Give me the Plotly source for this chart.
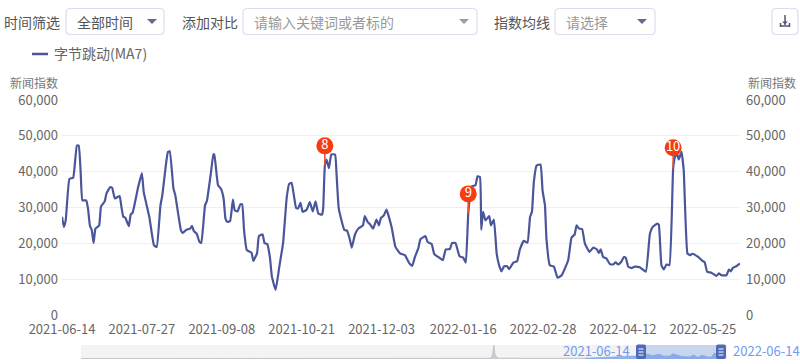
import pandas as pd
import plotly.graph_objects as go

# ---------- data ----------
start_date = "2021-06-14"
end_date = "2022-06-14"
day_offsets = [
 0,1,2,4,6,8,9,10,11,13,14,15,16,17,18,20,21,23,24,26,27,28.5,31,32,33,34,36,37,38,41,43,44,47,49.5,51,53,54,56,57,58,
 60,61,64,65,67,69,70,71,72.5,74,75,77,78,80,81.5,82,84,85.5,87,88,89,90.5,92,93,94.5,96,97,98,99.5,102,103,105,106,108,
 109,110.5,112,113,115,117,119,121,122.3,123.6,126,127,128.4,129.5,131.7,133.4,135,136.5,138,140,140.6,141.5,142.4,143.7,
 145,147,147.8,149,152,153.5,155,156,157.7,159.5,162,163,164.5,166,167.5,169.3,170.6,171.7,173.3,174.7,177.4,179.5,182,
 184.6,187,188.5,190,191.8,193,195.7,196.8,199,200.4,202.5,205,206.6,208.8,210,211.8,214,216,217.4,218.7,220.5,222.6,
 223.7,225,225.7,226.7,228,230,230.9,232.5,234,235.3,236.6,238,239.6,240.7,243,245,246.5,248.6,250.6,252,253,254,255.5,
 257.6,258.7,260,260.8,262.6,264.8,266.8,269,272.5,274.3,276,277,278.4,280,281.5,284,286,288,289,290,291.3,293,295,296.7,
 298,299.4,301,302.5,303.5,304.8,306.6,308.4,311,314.3,316.5,318,320.4,321.3,322.7,324,325.4,327,329,330,331.3,332,333.5,
 334.7,336.7,338,339.4,342.5,344.8,346,347.3,349.6,352.3,353.6,355,357.7,359,360,361.3,363,365,
]
news_index = [
 27400,24600,26400,38000,38300,47300,47300,40400,32000,32000,29700,25000,23700,20100,24100,25000,30300,31700,34000,35700,35500,32500,33200,30100,27400,27200,24800,28100,28500,35700,39600,34300,27400,19500,19000,30600,33400,42200,45500,45700,
 35300,33400,23700,22900,23800,24100,24900,23400,22700,20400,20100,30600,31800,39000,44800,44800,36200,35300,32500,26900,26000,26200,32200,29200,28900,30900,30900,23700,18100,17400,15100,17200,22000,22500,
 20100,19800,15800,10700,7000,13500,20000,32900,36600,36900,29900,29700,31300,28800,29400,31500,28900,31700,28300,28000,29700,41700,43400,41000,
 44800,44800,39400,29700,23700,23500,21000,18800,22400,24100,25000,27600,26000,25200,24100,26600,25000,27100,27800,29400,24600,19000,17200,
 16700,14400,13700,16200,18600,21200,22000,20400,19800,17000,16200,15300,18300,18400,20100,20100,16400,16000,14600,28300,35900,36200,
 38700,38500,23800,28800,26400,27600,25000,26600,17200,13900,12200,13600,13600,12800,14600,15000,18300,20700,20200,27400,28800,37100,41700,
 42000,34800,30600,21300,13900,13500,10400,11100,15300,21600,22500,25000,24100,24000,19900,17600,18800,18300,17300,18300,16200,15800,14200,14100,
 14700,14100,14800,16200,16000,13500,13100,13500,13300,12100,22700,24600,25500,25200,13900,12700,14100,13900,40800,44100,44800,43400,45500,
 40400,17200,16700,17100,16200,15100,14700,12100,11800,10900,11600,11100,11100,12700,12200,13200,13600,14400,
]
series_name = "字节跳动(MA7)"
y_ticks = [0, 10000, 20000, 30000, 40000, 50000, 60000]
x_tick_labels = ["2021-06-14","2021-07-27","2021-09-08","2021-10-21","2021-12-03",
                 "2022-01-16","2022-02-28","2022-04-12","2022-05-25"]
axis_title = "新闻指数"

pin_labels = ["8", "9", "10"]
pin_offsets = [141.5, 218.7, 329]
pin_from = [41700, 28300, 40800]
pin_to = [47200, 33800, 46700]

overview_gray_dates = ["2014-06-14","2015-06-01","2016-06-01","2017-06-01","2018-01-01","2018-09-01","2019-03-01",
                       "2019-07-28","2019-08-06","2019-08-12","2019-08-18","2019-09-01","2020-03-01","2020-10-01"]
overview_gray_values = [3,3,3,4,4,6,4,5,30,100,25,6,5,6]
overview_blue_dates = ["2020-10-01","2021-01-01","2021-04-01","2021-06-14","2021-07-10","2021-08-05","2021-09-05","2021-09-25",
                       "2021-10-25","2021-11-05","2021-12-10","2022-01-20","2022-02-10","2022-02-28","2022-03-20","2022-04-20",
                       "2022-05-01","2022-05-15","2022-06-14"]
overview_blue_values = [6,10,18,24,36,24,34,20,22,38,20,14,28,12,26,12,14,42,18]

# ---------- helpers for page furniture (pixel to paper) ----------
L, R, T, B = 62, 740, 100, 359
px = lambda v: (v - L) / (R - L)
py = lambda v: (B - v) / (B - T)

def rounded(x0, y0, x1, y1, r=4):
    X0, X1, Y0, Y1 = px(x0), px(x1), py(y0), py(y1)
    rx, ry = r / (R - L), r / (B - T)
    return (f"M {X0+rx} {Y0} L {X1-rx} {Y0} Q {X1} {Y0} {X1} {Y0-ry} L {X1} {Y1+ry} Q {X1} {Y1} {X1-rx} {Y1} "
            f"L {X0+rx} {Y1} Q {X0} {Y1} {X0} {Y1+ry} L {X0} {Y0-ry} Q {X0} {Y0} {X0+rx} {Y0} Z")

def poly(points):
    return "M " + " L ".join(f"{px(a)} {py(b)}" for a, b in points) + " Z"

shapes, annos = [], []
def box(x0, x1, y0=8.5, y1=34.5):
    shapes.append(dict(type="path", path=rounded(x0, y0, x1, y1), xref="paper", yref="paper",
                       line=dict(color="#dddcf0", width=1.2), fillcolor="white"))
def tri(cx, cy=21.5, w=5, h=5, color="#67678c"):
    shapes.append(dict(type="path", path=poly([(cx-w, cy-h/2), (cx+w, cy-h/2), (cx, cy+h/2)]),
                       xref="paper", yref="paper", line=dict(width=0), fillcolor=color))
def text(x, y, s, size=14, color="#555", anchor="left"):
    annos.append(dict(x=px(x), y=py(y), xref="paper", yref="paper", text=s, showarrow=False, xanchor=anchor,
                      yanchor="middle", xshift=0, font=dict(size=size, color=color), borderpad=0))
def seg(x0, y0, x1, y1, color, width=1.5):
    shapes.append(dict(type="line", x0=px(x0), x1=px(x1), y0=py(y0), y1=py(y1), xref="paper", yref="paper",
                       line=dict(color=color, width=width)))

box(66, 164); box(243, 477); box(555, 655); box(772, 798)
tri(152); tri(464, color="#9a9ab0"); tri(642)
text(3, 22, "时间筛选"); text(76, 22, "全部时间"); text(181, 22, "添加对比")
text(253, 22, "请输入关键词或者标的", color="#999"); text(493, 22, "指数均线"); text(565, 22, "请选择", color="#999")
seg(785, 15, 785, 25, "#55557a"); seg(780.5, 26, 789.5, 26, "#55557a", 1.5)
seg(780.5, 23, 780.5, 27, "#55557a"); seg(789.5, 23, 789.5, 27, "#55557a")
tri(785, 23, 3, 3, "#55557a")
seg(32, 54, 48, 54, "#4a5699", 2.5)
text(53, 53, series_name, color="#666")
text(9, 83, axis_title, size=12, color="#777"); text(747, 83, axis_title, size=12, color="#777")

# overview strip
shapes.append(dict(type="rect", x0=px(81), x1=px(727), y0=py(345), y1=py(359), xref="paper", yref="paper",
                   line=dict(width=0), fillcolor="#f3f3f3", layer="below"))
shapes.append(dict(type="rect", x0=px(641), x1=px(721), y0=py(345), y1=py(359), xref="paper", yref="paper",
                   line=dict(width=0), fillcolor="rgba(130,165,230,0.38)"))
for hx in (641, 721):
    shapes.append(dict(type="path", path=rounded(hx-5, 344.5, hx+5, 359, 2), xref="paper", yref="paper",
                       line=dict(width=0), fillcolor="#4f69b8"))
    for ly in (349, 352, 355):
        seg(hx-2.5, ly, hx+2.5, ly, "white", 1)
text(631, 350, start_date, size=13, color="#6f9cf0", anchor="right")
text(732, 350, end_date, size=13, color="#6f9cf0")

# ---------- figure ----------
base = pd.Timestamp(start_date)
to_date = lambda d: base + pd.Timedelta(days=d)
dates = [to_date(d) for d in day_offsets]

fig = go.Figure()
fig.add_trace(go.Scatter(x=dates, y=news_index, name=series_name, mode="lines", showlegend=False, cliponaxis=False,
                         line=dict(color="#4a5699", width=2.2, shape="spline", smoothing=0.35),
                         hoverinfo="x+y"))
# right-hand axis twin
fig.add_trace(go.Scatter(x=dates, y=news_index, yaxis="y3", mode="lines", showlegend=False, hoverinfo="skip",
                         line=dict(width=0), opacity=0))
for lab, d, y0, y1 in zip(pin_labels, pin_offsets, pin_from, pin_to):
    fig.add_trace(go.Scatter(x=[to_date(d), to_date(d)], y=[y0, y1], mode="lines", showlegend=False,
                             hoverinfo="skip", line=dict(color="#f0492a", width=1.5)))
    fig.add_trace(go.Scatter(x=[to_date(d)], y=[y1], mode="markers+text", text=[lab], textposition="middle center",
                             showlegend=False, hoverinfo="skip", cliponaxis=False,
                             marker=dict(size=17, color="#f53d10"),
                             textfont=dict(color="white", size=13)))
fig.add_trace(go.Scatter(x=overview_gray_dates, y=overview_gray_values, xaxis="x2", yaxis="y2", mode="lines",
                         fill="tozeroy", fillcolor="#c9ccd4", showlegend=False, hoverinfo="skip",
                         line=dict(color="#b9bcc6", width=0.7)))
fig.add_trace(go.Scatter(x=overview_blue_dates, y=overview_blue_values, xaxis="x2", yaxis="y2", mode="lines",
                         fill="tozeroy", fillcolor="#8fb0ea", showlegend=False, hoverinfo="skip",
                         line=dict(color="#7fa3e6", width=0.7)))

main_bottom = (B - 315) / (B - T)
axis_font = dict(size=13, color="#666")
tick_fmt = ",d"
fig.update_layout(
    width=800, height=364, autosize=False, paper_bgcolor="white", plot_bgcolor="white",
    margin=dict(l=L, r=800 - R, t=T, b=364 - B, pad=0, autoexpand=False),
    font=dict(family="Noto Sans CJK SC, Noto Sans, sans-serif", size=13, color="#666"),
    xaxis=dict(type="date", range=[start_date, to_date(365)], tickmode="array", tickvals=x_tick_labels,
               ticktext=x_tick_labels, showgrid=False, zeroline=False, showline=False, ticks="",
               tickfont=axis_font, anchor="y", domain=[0, 1], ticklabelstandoff=5),
    yaxis=dict(domain=[main_bottom, 1], range=[0, 60000], tickvals=y_ticks, tickformat=tick_fmt,
               gridcolor="#eeeef6", gridwidth=1, zeroline=False, showline=False, ticks="",
               tickfont=axis_font, ticklabelstandoff=3),
    yaxis3=dict(domain=[main_bottom, 1], range=[0, 60000], tickvals=y_ticks, tickformat=tick_fmt, overlaying="y",
                side="right", anchor="x", showgrid=False, zeroline=False, showline=False, ticks="",
                tickfont=axis_font, ticklabelstandoff=5),
    xaxis2=dict(type="date", domain=[px(81), px(721)], range=[overview_gray_dates[0], end_date], visible=False,
                anchor="y2"),
    yaxis2=dict(domain=[0, py(345)], range=[0, 100], visible=False, anchor="x2"),
    shapes=shapes, annotations=annos, showlegend=False,
)
fig.write_html("out.html", config=dict(displayModeBar=False),
               post_script="document.body.style.margin='0';document.body.style.overflow='hidden';")
